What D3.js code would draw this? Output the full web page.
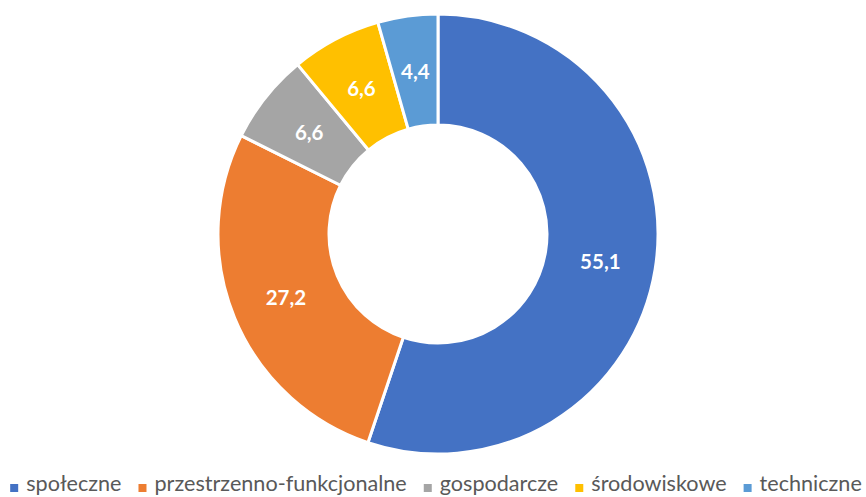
<!DOCTYPE html>
<html>
<head>
<meta charset="utf-8">
<script src="https://cdn.jsdelivr.net/npm/d3@7"></script>
<style>
  html, body { margin: 0; padding: 0; background: #fff; overflow: hidden; }
  svg { display: block; }
</style>
</head>
<body>
<svg id="chart" width="866" height="497"></svg>
<script>
// Shares by category (percent)
const categories = ["społeczne", "przestrzenno-funkcjonalne", "gospodarcze", "środowiskowe", "techniczne"];
const values = [55.1, 27.2, 6.6, 6.6, 4.4];
const colors = ["#4472C4", "#ED7D31", "#A5A5A5", "#FFC000", "#5B9BD5"];

const svg = d3.select("#chart");
const cx = 438, cy = 234;
const outerR = 220, innerR = 109;
const font = "Lato, 'Open Sans', sans-serif";

const data = categories.map((c, i) => ({ cat: c, value: values[i], color: colors[i] }));

const pie = d3.pie().value(d => d.value).sort(null);
const arc = d3.arc().innerRadius(innerR).outerRadius(outerR);
const labelArc = d3.arc().innerRadius((innerR + outerR) / 2).outerRadius((innerR + outerR) / 2);

const g = svg.append("g").attr("transform", `translate(${cx},${cy})`);
const arcs = pie(data);

g.selectAll("path.slice")
  .data(arcs)
  .join("path")
  .attr("class", "slice")
  .attr("d", arc)
  .attr("fill", d => d.data.color)
  .attr("stroke", "#fff")
  .attr("stroke-width", 3)
  .attr("stroke-linejoin", "round");

g.selectAll("text.val")
  .data(arcs)
  .join("text")
  .attr("class", "val")
  .attr("transform", d => `translate(${labelArc.centroid(d)})`)
  .attr("text-anchor", "middle")
  .attr("dominant-baseline", "central")
  .attr("font-family", font)
  .attr("font-weight", "bold")
  .attr("font-size", 20.5)
  .attr("fill", "#fff")
  .text(d => d3.format(".1f")(d.data.value).replace(".", ","));

// Legend, centred along the bottom edge
const legend = svg.append("g");
const fs = 21.6, marker = 8, markerGap = 8, itemGap = 17;
const items = legend.selectAll("g.item").data(data).join("g").attr("class", "item");
items.append("rect")
  .attr("width", marker).attr("height", marker)
  .attr("fill", d => d.color);
items.append("text")
  .attr("font-family", font)
  .attr("font-size", fs)
  .attr("fill", "#595959")
  .text(d => d.cat);

let widths = [];
items.each(function() {
  widths.push(d3.select(this).select("text").node().getComputedTextLength());
});
const total = d3.sum(widths, w => marker + markerGap + w) + itemGap * (widths.length - 1);
let x = (872 - total) / 2;
const baseY = 491;
items.each(function(d, i) {
  const it = d3.select(this);
  it.select("rect").attr("x", x).attr("y", baseY - 7);
  it.select("text").attr("x", x + marker + markerGap).attr("y", baseY);
  x += marker + markerGap + widths[i] + itemGap;
});
</script>
</body>
</html>
